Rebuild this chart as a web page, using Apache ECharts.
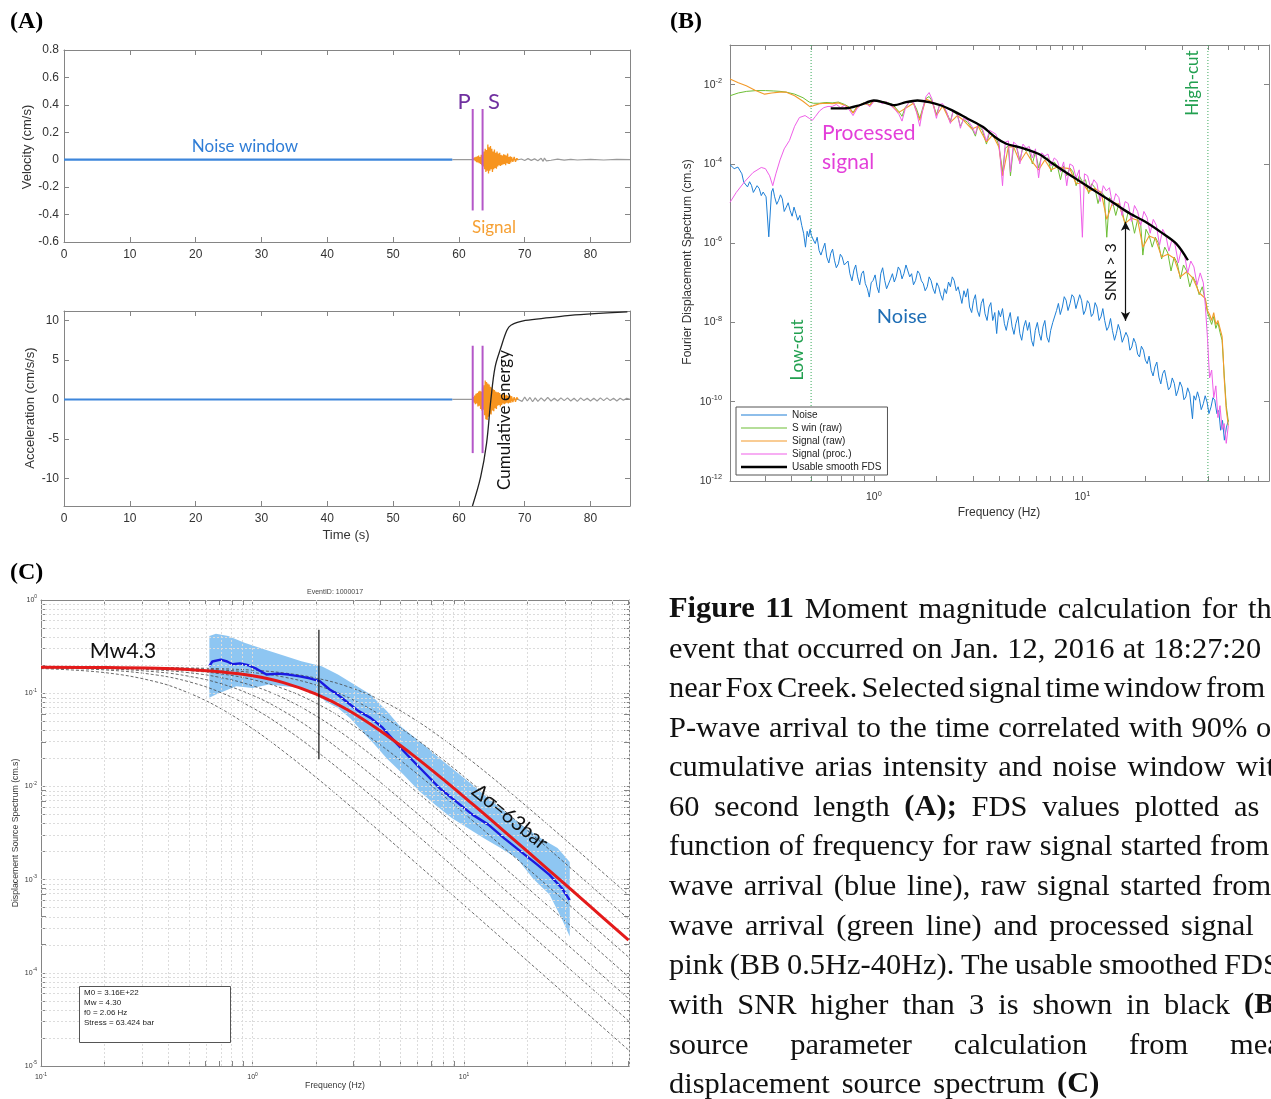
<!DOCTYPE html>
<html><head><meta charset="utf-8">
<script src="https://cdn.jsdelivr.net/npm/echarts@6/dist/echarts.min.js"></script>
<style>html,body{margin:0;padding:0;background:#fff}#c{width:1271px;height:1099px}</style>
</head><body><div id="c"></div>
<script>
// ---------------- Panel A : time series (time in s) ----------------
const timeTicks = [0,10,20,30,40,50,60,70,80];
const velTicks = [-0.6,-0.4,-0.2,0,0.2,0.4,0.6,0.8];
const accTicks = [-10,-5,0,5,10];
const pickTimes = [62.1, 63.6];          // P and S arrival (s)
const velPickRange = [-0.37, 0.37];
const accPickRange = [-6.8, 6.8];
const velNoiseWindow = [[0,0],[59,0]];
const velRecord = [[59,0],[62.1,0],[69,0],[69.5,0.005],[70,-0.006],[70.5,0.008],[71,-0.005],[71.5,0.006],[72,-0.008],[72.5,0.01],[72.8,-0.012],[73,0.012],[73.3,-0.008],[73.6,0.005],[74,-0.004],[75,0.004],[76,-0.003],[77,0.003],[78,-0.002],[80,0.002],[82,-0.002],[84,0.002],[86,0]];
const velSignal = [[62.1,0],[62.2,0.01],[62.3,-0.012],[62.4,0.015],[62.5,-0.01],[62.6,0.02],[62.7,-0.018],[62.8,0.025],[62.9,-0.02],[63,0.03],[63.1,-0.025],[63.2,0.02],[63.3,-0.03],[63.4,0.035],[63.5,-0.04],[63.6,0.03],[63.7,-0.05],[63.8,0.06],[63.9,-0.07],[64,0.08],[64.1,-0.09],[64.2,0.07],[64.3,-0.08],[64.4,0.11],[64.5,-0.1],[64.6,0.09],[64.7,-0.08],[64.8,0.1],[64.9,-0.07],[65,0.08],[65.1,-0.09],[65.2,0.06],[65.3,-0.07],[65.4,0.075],[65.5,-0.06],[65.6,0.05],[65.7,-0.065],[65.8,0.06],[65.9,-0.05],[66,0.045],[66.1,-0.04],[66.2,0.05],[66.3,-0.045],[66.4,0.035],[66.5,-0.04],[66.6,0.03],[66.7,-0.035],[66.8,0.04],[66.9,-0.03],[67,0.035],[67.1,-0.04],[67.2,0.03],[67.3,-0.025],[67.4,0.045],[67.5,-0.03],[67.6,0.02],[67.7,-0.03],[67.8,0.025],[67.9,-0.02],[68,0.02],[68.2,-0.015],[68.4,0.02],[68.6,-0.015],[68.8,0.01],[69,0]];
const accNoiseWindow = [[0,0],[59,0]];
const accRecord = [[59,0],[62.1,0],[69,0],[69.3,0.2],[69.6,-0.25],[70,0.3],[70.4,-0.2],[70.8,0.25],[71.2,-0.3],[71.6,0.2],[72,-0.25],[72.5,0.2],[73,-0.2],[73.5,0.25],[74,-0.2],[74.5,0.15],[75,-0.2],[75.5,0.2],[76,-0.15],[76.5,0.2],[77,-0.2],[77.5,0.15],[78,-0.25],[78.5,0.2],[79,-0.15],[79.5,0.15],[80,-0.2],[80.5,0.15],[81,-0.2],[81.5,0.2],[82,-0.15],[82.5,0.2],[83,-0.15],[83.5,0.15],[84,-0.2],[84.5,0.15],[85,-0.1],[85.5,0.15],[86,0]];
const accSignal = [[62.1,0],[62.2,0.3],[62.3,-0.4],[62.4,0.5],[62.5,-0.6],[62.6,0.7],[62.7,-0.5],[62.8,0.8],[62.9,-0.9],[63,1],[63.1,-0.8],[63.2,1.1],[63.3,-1.2],[63.4,1],[63.5,-1.4],[63.6,1.5],[63.7,-1.3],[63.8,1.8],[63.9,-2],[64,2.4],[64.1,-2.5],[64.2,2.2],[64.3,-2.6],[64.4,2],[64.5,-2.2],[64.6,1.9],[64.7,-1.8],[64.8,1.6],[64.9,-1.9],[65,1.5],[65.1,-1.4],[65.2,1.3],[65.3,-1.5],[65.4,1.2],[65.5,-1.1],[65.6,1],[65.7,-1.2],[65.8,0.9],[65.9,-0.8],[66,0.9],[66.1,-0.7],[66.2,0.8],[66.3,-0.9],[66.4,0.6],[66.5,-0.7],[66.6,0.6],[66.7,-0.5],[66.8,0.7],[66.9,-0.6],[67,0.5],[67.1,-0.5],[67.2,0.6],[67.3,-0.4],[67.4,0.5],[67.5,-0.5],[67.6,0.4],[67.7,-0.4],[67.8,0.5],[67.9,-0.4],[68,0.4],[68.2,-0.35],[68.4,0.3],[68.6,-0.3],[68.8,0.25],[69,0]];
const cumEnergy = [[62.06,-13.5],[63.3,-9.85],[64.2,-5.6],[64.85,-0.1],[65.5,4.1],[66.4,6.6],[67.3,8.75],[67.9,9.4],[70.1,10],[73.8,10.35],[76.9,10.65],[80.6,10.87],[85.6,11.08]];

// ---------------- Panel B : Fourier displacement spectrum, [log10 f(Hz), log10 FDS(cm.s)] ----------------
const bYTicks = [-12,-10,-8,-6,-4,-2];
const lowCutHz = 0.5, highCutHz = 40;
const snrArrowHz = 16.1, snrArrowLog = [-5.46, -7.96];
const bNoiseLog = [[-0.69,-4.02],[-0.67,-4.12],[-0.652,-4.08],[-0.633,-4.25],[-0.624,-4.46],[-0.606,-4.58],[-0.596,-4.45],[-0.587,-4.54],[-0.578,-4.72],[-0.569,-4.67],[-0.56,-4.55],[-0.55,-4.62],[-0.54,-4.8],[-0.531,-4.71],[-0.517,-4.83],[-0.504,-5.84],[-0.491,-4.71],[-0.484,-4.62],[-0.476,-4.83],[-0.466,-5.02],[-0.457,-4.92],[-0.448,-4.78],[-0.439,-4.88],[-0.43,-5.2],[-0.42,-5.09],[-0.411,-4.98],[-0.402,-5.17],[-0.392,-5.32],[-0.383,-5.09],[-0.374,-5.25],[-0.365,-5.42],[-0.355,-5.3],[-0.346,-5.55],[-0.337,-5.75],[-0.328,-6.1],[-0.32,-5.7],[-0.313,-5.84],[-0.306,-5.65],[-0.3,-5.8],[-0.29,-5.92],[-0.281,-6.01],[-0.272,-5.85],[-0.263,-6.18],[-0.254,-6.3],[-0.244,-6.14],[-0.235,-6],[-0.226,-6.35],[-0.216,-6.5],[-0.207,-6.26],[-0.198,-6.15],[-0.189,-6.43],[-0.18,-6.62],[-0.17,-6.52],[-0.161,-6.28],[-0.152,-6.35],[-0.142,-6.55],[-0.133,-6.6],[-0.124,-6.45],[-0.115,-6.77],[-0.105,-6.95],[-0.096,-6.68],[-0.087,-6.55],[-0.078,-6.85],[-0.068,-7.05],[-0.059,-6.77],[-0.05,-6.7],[-0.041,-7.02],[-0.031,-7.15],[-0.022,-7.36],[-0.013,-7],[-0.004,-6.94],[0.006,-6.8],[0.015,-7.1],[0.024,-7.25],[0.033,-6.77],[0.042,-6.62],[0.052,-6.94],[0.061,-7.15],[0.07,-7.1],[0.08,-6.9],[0.089,-6.77],[0.098,-6.98],[0.107,-6.85],[0.117,-6.6],[0.126,-6.68],[0.135,-6.9],[0.144,-6.77],[0.154,-6.55],[0.163,-6.6],[0.172,-6.85],[0.181,-6.77],[0.19,-7.05],[0.2,-6.94],[0.21,-6.7],[0.219,-6.77],[0.228,-6.95],[0.237,-7.02],[0.246,-7.2],[0.256,-7.1],[0.265,-6.85],[0.274,-6.94],[0.284,-7.15],[0.293,-7.27],[0.302,-7],[0.311,-7.1],[0.32,-7.3],[0.33,-7.44],[0.339,-7.15],[0.348,-7.27],[0.358,-6.98],[0.367,-7.1],[0.376,-6.85],[0.385,-6.94],[0.395,-7.2],[0.404,-7.1],[0.413,-7.3],[0.422,-7.52],[0.432,-7.2],[0.441,-7.36],[0.45,-7.15],[0.459,-7.61],[0.469,-7.75],[0.478,-7.44],[0.487,-7.3],[0.496,-7.69],[0.506,-7.85],[0.515,-7.52],[0.524,-7.4],[0.533,-7.78],[0.543,-7.95],[0.552,-7.61],[0.561,-7.5],[0.57,-7.95],[0.58,-7.75],[0.589,-8.28],[0.598,-7.7],[0.607,-7.86],[0.617,-7.65],[0.626,-8.03],[0.635,-8.2],[0.644,-7.95],[0.654,-7.75],[0.663,-8.11],[0.672,-8.3],[0.681,-8.03],[0.691,-7.85],[0.7,-8.28],[0.709,-8.45],[0.719,-8.11],[0.728,-7.95],[0.737,-8.2],[0.746,-8],[0.756,-8.45],[0.765,-8.6],[0.774,-8.2],[0.784,-8],[0.793,-8.28],[0.802,-8.45],[0.811,-8.11],[0.82,-7.95],[0.83,-8.37],[0.839,-8.5],[0.848,-8.2],[0.858,-8],[0.867,-8.03],[0.876,-7.7],[0.885,-7.52],[0.894,-7.8],[0.904,-7.61],[0.913,-7.35],[0.922,-7.44],[0.931,-7.7],[0.941,-7.52],[0.95,-7.3],[0.959,-7.36],[0.969,-7.65],[0.978,-7.61],[0.987,-7.3],[0.996,-7.44],[1.006,-7.8],[1.015,-7.69],[1.024,-7.45],[1.033,-7.52],[1.043,-7.85],[1.052,-7.78],[1.061,-7.5],[1.07,-7.61],[1.08,-7.95],[1.089,-7.86],[1.098,-7.65],[1.107,-7.95],[1.117,-8.2],[1.126,-8.11],[1.135,-7.9],[1.144,-8.2],[1.154,-8.45],[1.163,-8.28],[1.172,-8.05],[1.181,-8.2],[1.191,-8.5],[1.2,-8.45],[1.209,-8.25],[1.219,-8.37],[1.228,-8.7],[1.237,-8.62],[1.246,-8.4],[1.256,-8.53],[1.265,-8.8],[1.274,-8.87],[1.283,-8.6],[1.293,-8.7],[1.302,-8.95],[1.311,-9.04],[1.32,-8.85],[1.33,-9.21],[1.339,-9.35],[1.348,-9.12],[1.357,-9],[1.367,-9.38],[1.376,-9.55],[1.385,-9.29],[1.394,-9.2],[1.404,-9.46],[1.413,-9.7],[1.422,-9.63],[1.431,-9.4],[1.441,-9.54],[1.45,-9.85],[1.459,-9.71],[1.468,-9.5],[1.478,-9.63],[1.487,-9.95],[1.496,-9.88],[1.505,-9.65],[1.515,-9.8],[1.528,-10.43],[1.535,-9.85],[1.543,-9.96],[1.552,-9.75],[1.561,-9.92],[1.57,-10.2],[1.58,-10.05],[1.589,-9.85],[1.598,-10.01],[1.607,-10.3],[1.617,-10.13],[1.626,-9.9],[1.635,-9.96],[1.645,-10.3],[1.654,-10.22],[1.663,-10.72],[1.672,-10.47],[1.681,-10.97],[1.691,-10.64],[1.7,-10.47]];
const bSwinRawLog = [[-0.69,-2.28],[-0.65,-2.21],[-0.61,-2.17],[-0.564,-2.15],[-0.52,-2.15],[-0.48,-2.16],[-0.45,-2.17],[-0.42,-2.19],[-0.38,-2.24],[-0.34,-2.33],[-0.31,-2.44],[-0.29,-2.47],[-0.26,-2.47],[-0.23,-2.45],[-0.2,-2.46],[-0.17,-2.44],[-0.14,-2.5],[-0.12,-2.56],[-0.1,-2.7],[-0.08,-2.55],[-0.05,-2.46],[-0.02,-2.5],[0,-2.4],[0.03,-2.42],[0.06,-2.44],[0.09,-2.5],[0.12,-2.68],[0.135,-2.8],[0.15,-2.58],[0.17,-2.44],[0.19,-2.46],[0.205,-2.62],[0.22,-2.85],[0.235,-2.58],[0.25,-2.35],[0.265,-2.3],[0.28,-2.42],[0.3,-2.75],[0.315,-2.52],[0.33,-2.52],[0.35,-2.72],[0.367,-2.92],[0.38,-2.68],[0.4,-2.76],[0.415,-3.05],[0.43,-2.88],[0.45,-2.95],[0.47,-3.1],[0.487,-3.3],[0.5,-3.02],[0.52,-3.15],[0.54,-3.5],[0.555,-3.2],[0.57,-3.25],[0.585,-3.32],[0.6,-3.55],[0.617,-4.2],[0.63,-3.6],[0.645,-3.55],[0.655,-4.3],[0.67,-3.55],[0.685,-3.6],[0.7,-3.9],[0.715,-3.58],[0.73,-3.68],[0.745,-3.65],[0.76,-4],[0.775,-3.7],[0.79,-4.1],[0.805,-3.8],[0.82,-3.88],[0.835,-3.85],[0.85,-4.2],[0.865,-3.95],[0.88,-4.05],[0.895,-4.4],[0.91,-4.05],[0.925,-4.3],[0.94,-4.1],[0.955,-4.2],[0.97,-4.55],[0.985,-4.3],[1,-4.45],[1.015,-4.4],[1.03,-4.75],[1.045,-4.5],[1.06,-4.6],[1.075,-5],[1.09,-4.7],[1.105,-4.8],[1.117,-5.85],[1.13,-4.85],[1.145,-4.95],[1.16,-5.3],[1.175,-5],[1.19,-5.15],[1.205,-5.55],[1.22,-5.2],[1.235,-5.35],[1.25,-5.75],[1.265,-5.4],[1.28,-5.55],[1.29,-6.3],[1.305,-5.65],[1.32,-5.8],[1.335,-6.1],[1.35,-5.85],[1.365,-6],[1.38,-6.4],[1.395,-6.1],[1.41,-6.25],[1.425,-6.7],[1.44,-6.35],[1.455,-6.5],[1.47,-6.9],[1.485,-6.55],[1.5,-6.7],[1.515,-7.1],[1.53,-6.85],[1.545,-7],[1.56,-7.3],[1.575,-7.1],[1.59,-7.45],[1.6,-7.75],[1.61,-7.9],[1.62,-8.05],[1.63,-7.85],[1.64,-8.15],[1.65,-8],[1.66,-8.25],[1.67,-8.45],[1.68,-9.3],[1.69,-10.1],[1.7,-10.5]];
const bSignalRawLog = [[-0.69,-1.86],[-0.65,-1.95],[-0.612,-2.03],[-0.57,-2.14],[-0.524,-2.24],[-0.49,-2.21],[-0.452,-2.19],[-0.42,-2.19],[-0.38,-2.28],[-0.34,-2.42],[-0.306,-2.56],[-0.29,-2.53],[-0.26,-2.48],[-0.23,-2.47],[-0.2,-2.48],[-0.17,-2.46],[-0.14,-2.52],[-0.12,-2.58],[-0.1,-2.72],[-0.08,-2.57],[-0.05,-2.47],[-0.02,-2.52],[0,-2.41],[0.03,-2.43],[0.08,-2.5],[0.12,-2.7],[0.15,-2.6],[0.19,-2.47],[0.22,-2.9],[0.25,-2.36],[0.28,-2.44],[0.3,-2.78],[0.33,-2.54],[0.367,-2.95],[0.4,-2.78],[0.43,-2.9],[0.47,-3.12],[0.5,-3.05],[0.54,-3.45],[0.57,-3.27],[0.6,-3.58],[0.617,-4.3],[0.645,-3.57],[0.67,-3.57],[0.7,-3.95],[0.73,-3.7],[0.76,-3.95],[0.79,-4.15],[0.82,-3.9],[0.85,-4.15],[0.88,-4.08],[0.91,-4.1],[0.94,-4.12],[0.97,-4.5],[1,-4.48],[1.03,-4.7],[1.06,-4.62],[1.09,-4.72],[1.117,-5.4],[1.145,-4.97],[1.175,-5.02],[1.205,-5.5],[1.235,-5.37],[1.265,-5.42],[1.29,-6.1],[1.32,-5.82],[1.35,-5.88],[1.38,-6.35],[1.41,-6.28],[1.44,-6.38],[1.47,-6.85],[1.5,-6.72],[1.53,-6.88],[1.56,-7.25],[1.59,-7.4],[1.6,-7.7],[1.61,-7.8],[1.62,-7.95],[1.63,-7.75],[1.64,-8.05],[1.65,-7.95],[1.66,-8.15],[1.67,-8.35],[1.675,-8.8],[1.68,-9.4],[1.69,-10.2],[1.7,-10.6]];
const bSignalProcLog = [[-0.69,-4.97],[-0.66,-4.72],[-0.62,-4.45],[-0.58,-4.22],[-0.54,-4.09],[-0.52,-4.12],[-0.5,-4.3],[-0.485,-4.55],[-0.47,-4.25],[-0.45,-3.9],[-0.43,-3.62],[-0.405,-3.41],[-0.38,-3.05],[-0.357,-2.83],[-0.33,-2.78],[-0.31,-2.85],[-0.295,-2.9],[-0.28,-2.8],[-0.26,-2.66],[-0.24,-2.58],[-0.22,-2.55],[-0.2,-2.55],[-0.18,-2.5],[-0.16,-2.58],[-0.14,-2.52],[-0.12,-2.62],[-0.1,-2.78],[-0.08,-2.6],[-0.06,-2.5],[-0.04,-2.45],[-0.02,-2.56],[0,-2.42],[0.02,-2.4],[0.04,-2.48],[0.06,-2.43],[0.08,-2.52],[0.1,-2.62],[0.12,-2.75],[0.135,-2.92],[0.15,-2.62],[0.17,-2.42],[0.19,-2.45],[0.205,-2.7],[0.22,-3.05],[0.235,-2.6],[0.25,-2.3],[0.265,-2.2],[0.28,-2.38],[0.3,-2.85],[0.315,-2.5],[0.33,-2.48],[0.35,-2.7],[0.367,-2.98],[0.38,-2.65],[0.4,-2.72],[0.415,-3.1],[0.43,-2.85],[0.45,-2.9],[0.47,-3.05],[0.487,-3.25],[0.5,-2.98],[0.52,-3.1],[0.54,-3.42],[0.555,-3.15],[0.57,-3.2],[0.585,-3.25],[0.6,-3.45],[0.617,-4.55],[0.63,-3.45],[0.645,-3.42],[0.655,-4.2],[0.67,-3.45],[0.685,-3.52],[0.7,-4],[0.715,-3.5],[0.73,-3.6],[0.745,-3.56],[0.76,-3.85],[0.775,-3.62],[0.79,-4.35],[0.805,-3.72],[0.82,-3.8],[0.835,-3.75],[0.85,-4.05],[0.865,-3.85],[0.88,-3.92],[0.895,-4.2],[0.91,-3.95],[0.925,-4.55],[0.94,-4],[0.955,-4.05],[0.97,-4.35],[0.985,-4.15],[1,-5.85],[1.01,-4.25],[1.025,-4.3],[1.04,-4.62],[1.055,-4.4],[1.07,-4.5],[1.085,-4.95],[1.1,-4.55],[1.115,-4.68],[1.13,-4.6],[1.145,-5.05],[1.16,-4.75],[1.175,-4.85],[1.19,-5.3],[1.205,-4.95],[1.22,-5],[1.235,-5.45],[1.25,-5.05],[1.265,-5.2],[1.28,-5.55],[1.295,-5.2],[1.31,-5.35],[1.325,-5.75],[1.34,-5.4],[1.355,-5.55],[1.37,-6.05],[1.385,-5.65],[1.4,-5.8],[1.415,-6.2],[1.43,-5.9],[1.445,-6.05],[1.46,-6.5],[1.475,-6.15],[1.49,-6.3],[1.505,-6.75],[1.52,-6.45],[1.535,-6.6],[1.55,-7.05],[1.565,-6.75],[1.58,-7],[1.59,-7.6],[1.6,-8.4],[1.61,-9.4],[1.62,-9.2],[1.63,-9.9],[1.64,-9.6],[1.65,-10.4],[1.66,-10.1],[1.67,-10.7],[1.68,-10.55],[1.69,-11.05],[1.7,-10.6]];
const bSmoothLog = [[-0.207,-2.6],[-0.143,-2.6],[-0.069,-2.52],[0,-2.4],[0.043,-2.44],[0.098,-2.52],[0.154,-2.44],[0.209,-2.4],[0.265,-2.44],[0.32,-2.52],[0.376,-2.65],[0.45,-2.86],[0.524,-3.07],[0.58,-3.32],[0.635,-3.49],[0.691,-3.57],[0.746,-3.66],[0.802,-3.78],[0.857,-3.99],[0.931,-4.25],[1.006,-4.5],[1.08,-4.75],[1.154,-5],[1.228,-5.25],[1.302,-5.46],[1.376,-5.72],[1.45,-6.01],[1.506,-6.43]];

// ---------------- Panel C : displacement source spectrum, [log10 f(Hz), log10 S(cm.s)] ----------------
const cFreqLog = [-1,-0.699,-0.456,-0.301,-0.155,0,0.146,0.301,0.447,0.602,0.748,0.903,1.041,1.204,1.398,1.602,1.778];
const cFitLog = [-0.722,-0.725,-0.733,-0.746,-0.769,-0.813,-0.886,-1.01,-1.175,-1.4,-1.645,-1.927,-2.191,-2.509,-2.892,-3.299,-3.65];
const cRef1Log = [-0.721,-0.722,-0.725,-0.729,-0.737,-0.753,-0.782,-0.838,-0.927,-1.07,-1.255,-1.495,-1.736,-2.038,-2.413,-2.816,-3.166];
const cRef2Log = [-0.722,-0.723,-0.728,-0.736,-0.75,-0.778,-0.826,-0.913,-1.041,-1.23,-1.451,-1.717,-1.972,-2.285,-2.666,-3.071,-3.422];
const cRef3Log = [-0.723,-0.727,-0.74,-0.758,-0.791,-0.854,-0.952,-1.107,-1.302,-1.55,-1.809,-2.1,-2.368,-2.689,-3.073,-3.481,-3.832];
const cRef4Log = [-0.724,-0.731,-0.751,-0.78,-0.83,-0.92,-1.052,-1.244,-1.467,-1.735,-2.006,-2.304,-2.575,-2.898,-3.284,-3.691,-4.043];
const cRef5Log = [-0.725,-0.738,-0.771,-0.818,-0.894,-1.022,-1.192,-1.42,-1.668,-1.951,-2.231,-2.534,-2.807,-3.131,-3.518,-3.925,-4.277];
const cRef6Log = [-0.728,-0.75,-0.804,-0.877,-0.988,-1.157,-1.364,-1.62,-1.884,-2.179,-2.464,-2.769,-3.044,-3.368,-3.756,-4.164,-4.516];
const cRef7Log = [-0.736,-0.779,-0.878,-0.998,-1.159,-1.38,-1.623,-1.904,-2.182,-2.484,-2.773,-3.081,-3.356,-3.681,-4.069,-4.477,-4.829];
const cMeanLog = [[-0.204,-0.71],[-0.19,-0.66],[-0.15,-0.64],[-0.12,-0.66],[-0.095,-0.69],[-0.06,-0.68],[-0.02,-0.7],[0.02,-0.74],[0.066,-0.8],[0.12,-0.79],[0.17,-0.8],[0.223,-0.82],[0.27,-0.84],[0.318,-0.87],[0.365,-0.96],[0.4,-1.01],[0.442,-1.086],[0.5,-1.19],[0.558,-1.265],[0.615,-1.37],[0.673,-1.52],[0.731,-1.66],[0.808,-1.84],[0.885,-2.02],[0.962,-2.16],[1.038,-2.3],[1.115,-2.41],[1.192,-2.56],[1.269,-2.7],[1.346,-2.84],[1.404,-2.95],[1.462,-3.09],[1.5,-3.22]];
const cBandUpperLog = [[-0.204,-0.387],[-0.173,-0.362],[-0.115,-0.387],[-0.038,-0.459],[0.058,-0.53],[0.154,-0.6],[0.231,-0.656],[0.327,-0.71],[0.404,-0.8],[0.481,-0.907],[0.558,-1.014],[0.635,-1.19],[0.692,-1.34],[0.731,-1.41],[0.808,-1.55],[0.885,-1.7],[0.962,-1.84],[1.038,-1.98],[1.115,-2.13],[1.192,-2.27],[1.269,-2.41],[1.365,-2.56],[1.442,-2.66],[1.5,-2.81]];
const cBandLowerLog = [[-0.204,-1.05],[-0.173,-1.014],[-0.135,-0.978],[-0.077,-0.925],[0,-0.943],[0.077,-0.907],[0.154,-0.925],[0.231,-0.943],[0.308,-1.01],[0.346,-1.09],[0.404,-1.16],[0.462,-1.27],[0.519,-1.41],[0.577,-1.55],[0.635,-1.7],[0.712,-1.87],[0.788,-2.05],[0.865,-2.2],[0.942,-2.34],[1.019,-2.45],[1.096,-2.56],[1.173,-2.66],[1.25,-2.77],[1.327,-2.99],[1.404,-3.16],[1.462,-3.42],[1.5,-3.61]];
const cornerHz = 2.06, cornerLineLog = [-0.32, -1.71];

// ---------------- layout helpers ----------------
const AX = '#858585', LBL = '#333';
const SANS = 'Liberation Sans', CAL = 'Lato', SERIF = 'Liberation Serif';
const lg = Math.log10;
function logTicks(lo, hi) {
  const out = [];
  for (let d = Math.floor(lo); d <= Math.ceil(hi); d++) for (let k = 1; k <= 9; k++) {
    const v = d + lg(k); if (v >= lo - 1e-9 && v <= hi + 1e-9) out.push(+v.toFixed(5));
  }
  return out;
}
const bXTicks = logTicks(-0.69, 1.895);
const cXTicks = logTicks(-1, 1.78);
const cYTicks = logTicks(-5, 0);
function sup(v) { return '{b|10}{s|' + Math.round(v) + '}'; }
function richSup(fs) { return { b: {fontSize: fs, lineHeight: fs + 4, fontFamily: SANS, color: LBL}, s: {fontSize: fs * 0.7, lineHeight: fs * 0.8, verticalAlign: 'top', fontFamily: SANS, color: LBL} }; }
function axis(gridIndex, position, min, max, ticks, labels, fmt, fs, margin) {
  const a = { type: 'value', gridIndex, position, min, max, scale: false,
    axisLine: {show: true, onZero: false, lineStyle: {color: AX, width: 1}},
    axisTick: {show: true, inside: true, length: 5, customValues: ticks, lineStyle: {color: AX}},
    axisLabel: {show: !!labels, margin: margin || 6, fontSize: fs || 11, fontFamily: SANS, color: LBL, hideOverlap: false},
    splitLine: {show: false} };
  if (labels) { a.axisLabel.customValues = labels; if (fmt) a.axisLabel.formatter = fmt; if (fmt === sup) a.axisLabel.rich = richSup(fs); }
  return a;
}
const plain = v => String(v);
function line(xi, yi, data, color, width, extra) {
  return Object.assign({type: 'line', xAxisIndex: xi, yAxisIndex: yi, data, symbol: 'none', showSymbol: false, silent: true,
    lineStyle: {color, width}, itemStyle: {color}, animation: false, emphasis: {disabled: true}}, extra || {});
}
function txt(x, y, text, font, fill, opt) {
  opt = opt || {};
  return {type: 'text', x, y, rotation: opt.rot || 0, z: 100, silent: true,
    style: Object.assign({text, font, fill, align: opt.align || 'center', verticalAlign: 'middle'}, opt.style || {})};
}

const xAxes = [
  axis(0, 'bottom', 0, 86, timeTicks, timeTicks, plain, 12, 7),
  axis(1, 'bottom', 0, 86, timeTicks, timeTicks, plain, 12, 7),
  axis(2, 'bottom', -0.69, 1.895, bXTicks, [0, 1], sup, 10.5, 9),
  axis(3, 'bottom', -1, 1.78, cXTicks, [-1, 0, 1], sup, 7, 6),
  axis(0, 'top', 0, 86, timeTicks), axis(1, 'top', 0, 86, timeTicks),
  axis(2, 'top', -0.69, 1.895, bXTicks), axis(3, 'top', -1, 1.78, cXTicks)
];
const yAxes = [
  axis(0, 'left', -0.6, 0.8, velTicks, velTicks, plain, 12, 5),
  axis(1, 'left', -13.5, 11.2, accTicks, accTicks, plain, 12, 5),
  axis(2, 'left', -12, -1, bYTicks, bYTicks, sup, 10.5, 8),
  axis(3, 'left', -5, 0, cYTicks, [-5, -4, -3, -2, -1, 0], sup, 7, 4),
  axis(0, 'right', -0.6, 0.8, velTicks), axis(1, 'right', -13.5, 11.2, accTicks),
  axis(2, 'right', -12, -1, bYTicks), axis(3, 'right', -5, 0, cYTicks)
];

const C_PURPLE = '#B457C8';
const series = [
  line(0, 0, velRecord, '#9a9a9a', 1.2),
  line(0, 0, velNoiseWindow, '#3D86DB', 2.2),
  line(0, 0, velSignal, '#F7941E', 1.3),
  ...pickTimes.map(t => line(0, 0, [[t, velPickRange[0]], [t, velPickRange[1]]], C_PURPLE, 2)),
  line(1, 1, accRecord, '#9a9a9a', 1.2),
  line(1, 1, accNoiseWindow, '#3D86DB', 2),
  line(1, 1, accSignal, '#F7941E', 1.3),
  ...pickTimes.map(t => line(1, 1, [[t, accPickRange[0]], [t, accPickRange[1]]], C_PURPLE, 2)),
  line(1, 1, cumEnergy, '#222', 1.3, {smooth: 0.35}),
  line(2, 2, [[lg(lowCutHz), -12], [lg(lowCutHz), -1]], '#3BAA5C', 1, {lineStyle: {color: '#3BAA5C', width: 1, type: [1, 2]}}),
  line(2, 2, [[lg(highCutHz), -12], [lg(highCutHz), -1]], '#3BAA5C', 1, {lineStyle: {color: '#3BAA5C', width: 1, type: [1, 2]}}),
  line(2, 2, bNoiseLog, '#1E7FD6', 1, {name: 'Noise'}),
  line(2, 2, bSwinRawLog, '#6DBE35', 1, {name: 'S win (raw)'}),
  line(2, 2, bSignalRawLog, '#F39A2A', 1.1, {name: 'Signal (raw)'}),
  line(2, 2, bSignalProcLog, '#EF5FE8', 1, {name: 'Signal (proc.)'}),
  line(2, 2, bSmoothLog, '#000', 2.3, {name: 'Usable smooth FDS', smooth: 0.3}),
  {type: 'line', xAxisIndex: 2, yAxisIndex: 2, data: [], silent: true, animation: false,
    markLine: {silent: true, animation: false, symbol: ['arrow', 'arrow'], symbolSize: [7, 9], label: {show: false},
      lineStyle: {color: '#111', width: 1.2, type: 'solid'},
      data: [[{coord: [lg(snrArrowHz), snrArrowLog[0]]}, {coord: [lg(snrArrowHz), snrArrowLog[1]]}]]}},
  {type: 'line', xAxisIndex: 3, yAxisIndex: 3, data: [], silent: true, animation: false, z: 1,
    markLine: {silent: true, animation: false, symbol: ['none', 'none'], label: {show: false},
      lineStyle: {color: '#dcdcdc', width: 1, type: [2, 2]},
      data: [...cXTicks.filter(v => v > -1 && v < 1.78).map(v => ({xAxis: v})), ...cYTicks.filter(v => v > -5 && v < 0).map(v => ({yAxis: v}))]}},
  {type: 'custom', xAxisIndex: 3, yAxisIndex: 3, data: cBandUpperLog, silent: true, animation: false, z: 2,
    renderItem: function (params, api) {
      if (params.dataIndex !== 0) return null;
      const pts = cBandUpperLog.map(p => api.coord(p)).concat(cBandLowerLog.slice().reverse().map(p => api.coord(p)));
      return {type: 'polygon', shape: {points: pts}, style: {fill: '#8EC6F2'}};
    }},
  ...[cRef1Log, cRef2Log, cRef3Log, cRef4Log, cRef5Log, cRef6Log, cRef7Log].map(arr =>
    line(3, 3, cFreqLog.map((f, i) => [f, arr[i]]), '#444', 0.8, {smooth: 0.4, z: 3, lineStyle: {color: '#444', width: 0.8, type: [3, 2]}})),
  line(3, 3, cMeanLog, '#1A1AE0', 2.4, {z: 4}),
  line(3, 3, cFreqLog.map((f, i) => [f, cFitLog[i]]), '#E41A1A', 3, {smooth: 0.4, z: 5}),
  line(3, 3, [[lg(cornerHz), cornerLineLog[0]], [lg(cornerHz), cornerLineLog[1]]], '#111', 1.2, {z: 6})
];

// ---------------- texts ----------------
const R90 = Math.PI / 2;
const graphics = [
  txt(10, 22, '(A)', 'bold 24px ' + SERIF, '#000', {align: 'left'}),
  txt(670, 22, '(B)', 'bold 24px ' + SERIF, '#000', {align: 'left'}),
  txt(10, 573, '(C)', 'bold 24px ' + SERIF, '#000', {align: 'left'}),
  txt(27, 147, 'Velocity (cm/s)', '13px ' + SANS, LBL, {rot: R90}),
  txt(30, 408, 'Acceleration (cm/s/s)', '13px ' + SANS, LBL, {rot: R90}),
  txt(346, 535, 'Time (s)', '13px ' + SANS, LBL),
  txt(464, 102, 'P', '22px ' + CAL, '#7030A0'),
  txt(494, 102, 'S', '22px ' + CAL, '#7030A0'),
  txt(245, 147, 'Noise window', '17px ' + CAL, '#2F7DD6'),
  txt(494, 228, 'Signal', '17px ' + CAL, '#F6A033'),
  txt(505, 420, 'Cumulative energy', '17px ' + CAL, '#111', {rot: R90}),
  txt(688, 262, 'Fourier Displacement Spectrum (cm.s)', '12px ' + SANS, LBL, {rot: R90}),
  txt(999, 513, 'Frequency (Hz)', '12px ' + SANS, LBL),
  txt(822, 133, 'Processed', '21px ' + CAL, '#E33FD9', {align: 'left'}),
  txt(822, 162, 'signal', '21px ' + CAL, '#E33FD9', {align: 'left'}),
  txt(902, 317, 'Noise', '20px ' + CAL, '#1F6EB5'),
  txt(798, 350, 'Low-cut', '17px ' + CAL, '#22A050', {rot: R90}),
  txt(1193, 83, 'High-cut', '17px ' + CAL, '#22A050', {rot: R90}),
  txt(1111, 272, 'SNR > 3', '16px ' + CAL, '#111', {rot: R90}),
  txt(335, 592, 'EventID: 1000017', '7px ' + SANS, '#444'),
  txt(16, 833, 'Displacement Source Spectrum (cm.s)', '8.7px ' + SANS, LBL, {rot: R90}),
  txt(335, 1086, 'Frequency (Hz)', '8.7px ' + SANS, LBL),
  txt(123, 651, 'Mw4.3', '21.5px ' + CAL, '#111'),
  txt(510, 817, 'Δσ=63bar', '20.5px ' + CAL, '#111', {rot: -0.68}),
  {type: 'rect', x: 79.5, y: 986.5, shape: {width: 151, height: 56}, style: {fill: '#fff', stroke: '#555', lineWidth: 1}, z: 99, silent: true},
  txt(84, 993, 'M0 = 3.16E+22', '8px ' + SANS, '#222', {align: 'left'}),
  txt(84, 1003, 'Mw = 4.30', '8px ' + SANS, '#222', {align: 'left'}),
  txt(84, 1013, 'f0 = 2.06 Hz', '8px ' + SANS, '#222', {align: 'left'}),
  txt(84, 1023, 'Stress = 63.424 bar', '8px ' + SANS, '#222', {align: 'left'})
];

// caption: fully justified paragraph; each line's words are spread so the last visible word starts where it does in the figure
const CAP_FS = 29, CAP_SX = 1.05, CAP_X0 = 669;
const capY = [610, 650, 689, 729, 768, 808, 847, 887, 927, 966, 1006, 1046, 1085];
const capLines = [
  ['*Figure *11 Moment magnitude calculation for the', 1248],
  ['event that occurred on Jan. 12, 2016 at 18:27:20', 1153],
  ['near Fox Creek. Selected signal time window from', 1206],
  ['P-wave arrival to the time correlated with 90% of', 1256],
  ['cumulative arias intensity and noise window with', 1236],
  ['60 second length *(A); FDS values plotted as', 1234],
  ['function of frequency for raw signal started from', 1210],
  ['wave arrival (blue line), raw signal started from', 1212],
  ['wave arrival (green line) and processed signal', 1181],
  ['pink (BB 0.5Hz-40Hz). The usable smoothed FDS', 1224],
  ['with SNR higher than 3 is shown in black *(B);', 1244],
  ['source parameter calculation from measured', 1230],
  ['displacement source spectrum *(C)', 1057]
];
const meas = document.createElement('canvas').getContext('2d');
function capWidth(t, bold) { meas.font = (bold ? 'bold ' : '') + CAP_FS + 'px "' + SERIF + '"'; return meas.measureText(t).width * CAP_SX; }
capLines.forEach((ln, i) => {
  const words = ln[0].split(' ').map(w => w[0] === '*' ? {t: w.slice(1), b: true} : {t: w, b: false});
  const widths = words.map(w => capWidth(w.t, w.b));
  const n = words.length;
  let sum = 0; for (let k = 0; k < n - 1; k++) sum += widths[k];
  const gap = (ln[1] - CAP_X0 - sum) / (n - 1);
  let x = CAP_X0;
  words.forEach((w, k) => {
    graphics.push({type: 'text', x, y: capY[i], z: 100, silent: true, scaleX: CAP_SX,
      style: {text: w.t, fontSize: CAP_FS, fontFamily: SERIF, fontWeight: w.b ? 'bold' : 'normal', fill: '#111', align: 'left', verticalAlign: 'middle'}});
    x += widths[k] + gap;
  });
});

const lgIcon = h => 'path://M0,0H46V' + h + 'H0Z';
const chart = echarts.init(document.getElementById('c'), null, {renderer: 'canvas'});
chart.setOption({
  backgroundColor: '#fff',
  animation: false,
  grid: [
    {left: 64, top: 50, width: 566, height: 192, containLabel: false, outerBoundsMode: 'none'},
    {left: 64, top: 311, width: 566, height: 195, containLabel: false, outerBoundsMode: 'none'},
    {left: 730, top: 45, width: 539, height: 436, containLabel: false, outerBoundsMode: 'none'},
    {left: 41, top: 600, width: 588, height: 466, containLabel: false, outerBoundsMode: 'none'}
  ],
  xAxis: xAxes,
  yAxis: yAxes,
  legend: {
    show: true, left: 736, top: 407, orient: 'vertical', selectedMode: false, symbolKeepAspect: true,
    data: [{name: 'Noise', icon: lgIcon(1.2)}, {name: 'S win (raw)', icon: lgIcon(1.2)}, {name: 'Signal (raw)', icon: lgIcon(1.2)},
           {name: 'Signal (proc.)', icon: lgIcon(1.2)}, {name: 'Usable smooth FDS', icon: lgIcon(2.6)}],
    itemWidth: 46, itemHeight: 10, itemGap: 3, padding: [3, 6, 3, 5],
    borderColor: '#555', borderWidth: 1, backgroundColor: '#fff',
    textStyle: {fontSize: 10, fontFamily: SANS, color: '#222'}
  },
  series,
  graphic: {elements: graphics}
});
</script></body></html>
